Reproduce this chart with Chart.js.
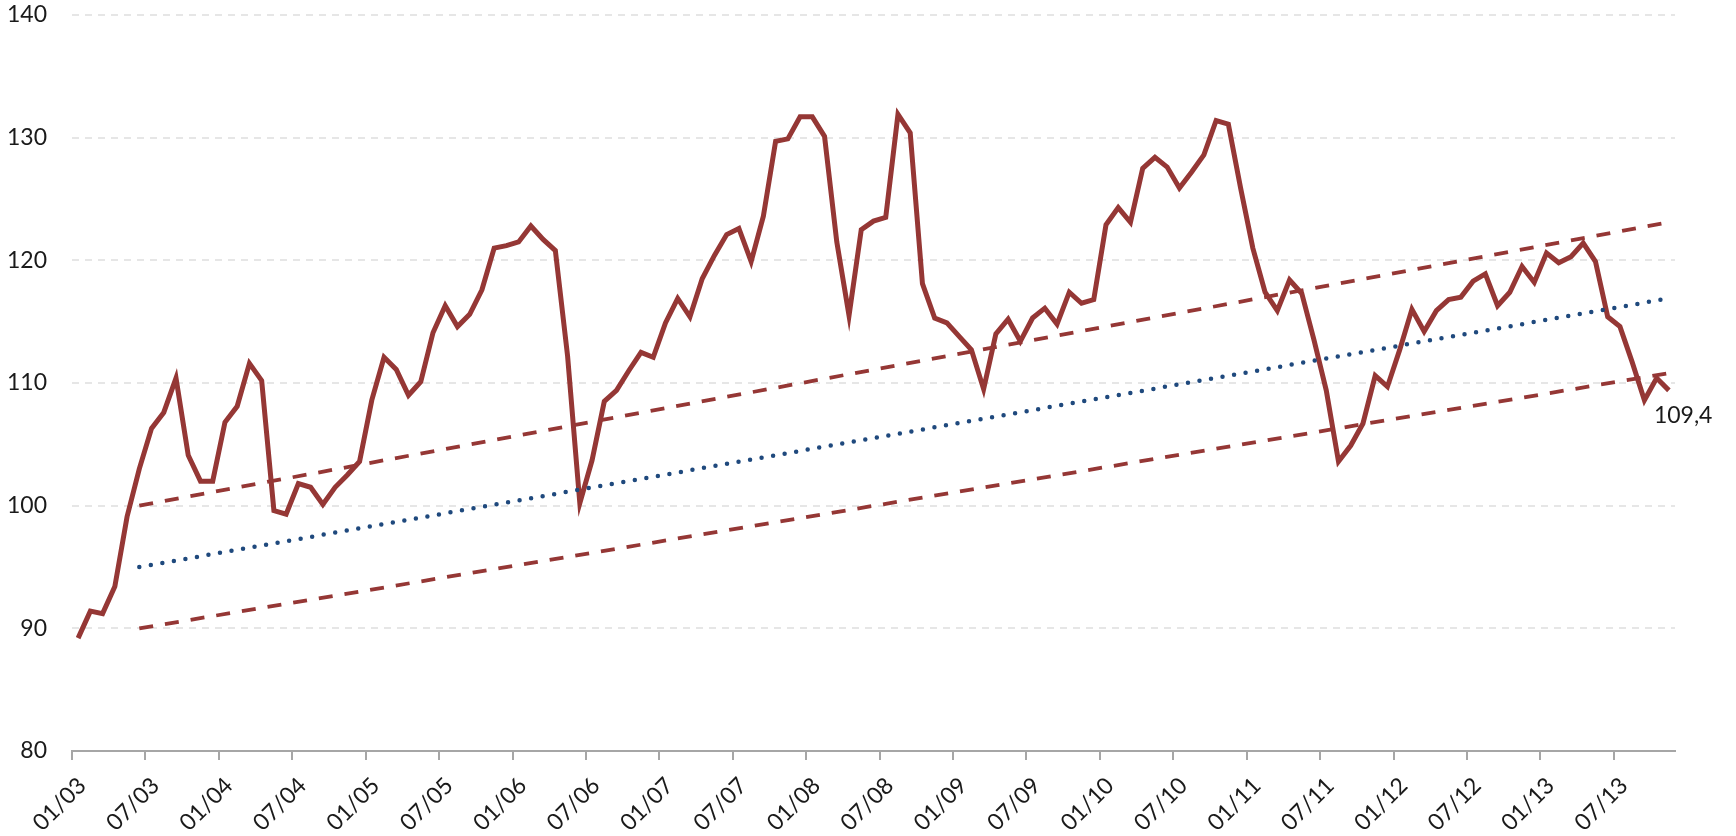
<!DOCTYPE html>
<html>
<head>
<meta charset="utf-8">
<title>Index</title>
<script src="https://cdn.jsdelivr.net/npm/chart.js@4.4.1/dist/chart.umd.min.js"></script>
<style>
  html, body { margin: 0; padding: 0; background: #fff; }
  #wrap { position: relative; width: 1736px; height: 836px; }
</style>
</head>
<body>
<div id="wrap"><canvas id="chart"></canvas></div>
<script>
// ── Data (monthly, 01/03 → 11/13) ──────────────────────────────
const firstYear = 2003;
const indexValues = [
  89.2, 91.4, 91.2, 93.4, 99.1, 103.0, 106.3, 107.6, 110.4, 104.1, 102.0, 102.0,   // 2003
  106.8, 108.1, 111.6, 110.2, 99.6, 99.3, 101.8, 101.5, 100.1, 101.5, 102.5, 103.6, // 2004
  108.6, 112.1, 111.1, 109.0, 110.1, 114.1, 116.3, 114.6, 115.6, 117.6, 121.0, 121.2, // 2005
  121.5, 122.8, 121.7, 120.8, 112.2, 100.2, 103.7, 108.5, 109.4, 111.0, 112.5, 112.1, // 2006
  114.9, 116.9, 115.4, 118.5, 120.4, 122.1, 122.6, 119.9, 123.6, 129.7, 129.9, 131.7, // 2007
  131.7, 130.1, 121.5, 115.5, 122.5, 123.2, 123.5, 131.9, 130.4, 118.1, 115.3, 114.9, // 2008
  113.8, 112.7, 109.5, 114.0, 115.2, 113.4, 115.3, 116.1, 114.8, 117.4, 116.5, 116.8, // 2009
  122.9, 124.3, 123.1, 127.5, 128.4, 127.6, 125.9, 127.2, 128.6, 131.4, 131.1, 125.9, // 2010
  121.0, 117.4, 115.9, 118.4, 117.3, 113.5, 109.4, 103.6, 104.9, 106.7, 110.6, 109.7, // 2011
  112.7, 116.0, 114.2, 115.9, 116.8, 117.0, 118.3, 118.9, 116.3, 117.4, 119.5, 118.2, // 2012
  120.6, 119.8, 120.3, 121.4, 119.9, 115.4, 114.6, 111.7, 108.6, 110.4, 109.4        // 2013
];

// Trend channel: values at its first and last month
const trendFrom  = '06/03';
const trendTo    = '11/13';
const trendMid   = [95.0, 116.9];
const trendUpper = [100.0, 123.1];
const trendLower = [90.0, 110.8];

const labelledMonths = ['01', '07'];
const yMin = 80, yMax = 140, yStep = 10;

// ── Styling ────────────────────────────────────────────────────
const RED   = '#953735';
const BLUE  = '#1f497d';
const AXIS  = '#a6a6a6';
const GRID  = '#e6e6e6';
const TEXT  = '#1a1a1a';
const FONT  = { family: 'Lato', size: 23 };

// ── Month categories ───────────────────────────────────────────
const months = indexValues.map((_, i) => {
  const mm = String(i % 12 + 1).padStart(2, '0');
  const yy = String((firstYear + Math.floor(i / 12)) % 100).padStart(2, '0');
  return `${mm}/${yy}`;
});
const isLabelled = i => i < months.length && labelledMonths.includes(months[i].slice(0, 2));

const toCommaDecimal = v => v.toFixed(1).replace('.', ',');

// ── Plugins ────────────────────────────────────────────────────
// tick marks below the axis, at the start of each labelled month
const halfYearTicks = {
  id: 'halfYearTicks',
  afterDraw(chart) {
    const xs  = chart.scales.x;
    const ctx = chart.ctx;
    const half = (xs.getPixelForValue(1) - xs.getPixelForValue(0)) / 2;
    ctx.save();
    ctx.strokeStyle = AXIS;
    ctx.lineWidth = 2;
    ctx.beginPath();
    months.forEach((_, i) => {
      if (!isLabelled(i)) return;
      const x = Math.round(xs.getPixelForValue(i) - half);
      ctx.moveTo(x, xs.top);
      ctx.lineTo(x, xs.top + 9);
    });
    ctx.stroke();
    ctx.restore();
  },
};

const lastValueLabel = {
  id: 'lastValueLabel',
  afterDatasetsDraw(chart) {
    const meta = chart.getDatasetMeta(3);
    const pt   = meta.data[meta.data.length - 1];
    const ctx  = chart.ctx;
    ctx.save();
    ctx.font = `${FONT.size}px ${FONT.family}`;
    ctx.fillStyle = TEXT;
    ctx.textAlign = 'left';
    ctx.textBaseline = 'alphabetic';
    ctx.fillText(toCommaDecimal(indexValues.at(-1)), pt.x - 15, pt.y + 33);
    ctx.restore();
  },
};

const trendSet = (vals, color, dash, width) => ({
  data: [{ x: trendFrom, y: vals[0] }, { x: trendTo, y: vals[1] }],
  borderColor: color,
  borderWidth: width,
  borderDash: dash,
  borderCapStyle: dash[0] === 0 ? 'round' : 'butt',
  pointRadius: 0,
  fill: false,
  tension: 0,
});

new Chart(document.getElementById('chart'), {
  type: 'line',
  data: {
    labels: months,
    datasets: [
      trendSet(trendMid,   BLUE, [0, 11.7], 4.5),
      trendSet(trendUpper, RED,  [14, 12], 3.8),
      trendSet(trendLower, RED,  [14, 12], 3.8),
      {
        data: indexValues,
        borderColor: RED,
        borderWidth: 5,
        borderJoinStyle: 'miter',
        pointRadius: 0,
        fill: false,
        tension: 0,
      },
    ],
  },
  options: {
    responsive: true,
    maintainAspectRatio: false,
    devicePixelRatio: 1,
    animation: false,
    layout: { padding: { top: 15, right: 61, bottom: 0, left: 0 } },
    plugins: { legend: { display: false }, tooltip: { enabled: false } },
    scales: {
      x: {
        type: 'category',
        offset: true,
        afterFit: s => { s.height = 85; },
        grid: { display: false, drawTicks: false },
        border: { display: true, color: AXIS, width: 2 },
        ticks: {
          autoSkip: false,
          minRotation: 45,
          maxRotation: 45,
          padding: 21,
          labelOffset: 4,
          color: TEXT,
          font: FONT,
          callback: (v, i) => isLabelled(i) ? months[i] : null,
        },
      },
      y: {
        min: yMin,
        max: yMax,
        afterFit: s => { s.width = 72; s.paddingTop = 0; s.paddingBottom = 0; },
        grid: { color: GRID, lineWidth: 2, drawTicks: false },
        border: { display: false, dash: [7, 6] },
        ticks: { stepSize: yStep, padding: 25, color: TEXT, font: FONT },
      },
    },
  },
  plugins: [halfYearTicks, lastValueLabel],
});
</script>
</body>
</html>
